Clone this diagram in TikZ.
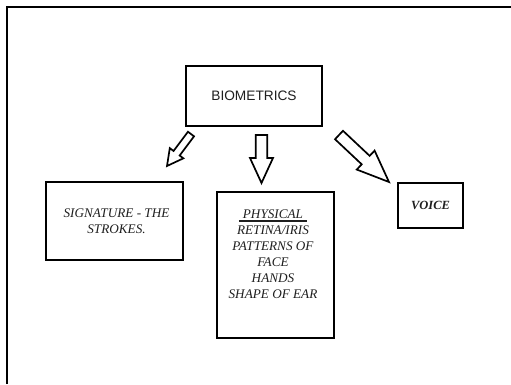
\documentclass[tikz,border=0pt]{standalone}
\usepackage{fontspec}
\setmainfont{Liberation Serif}
\newfontfamily\arialf{Liberation Sans}
\usetikzlibrary{calc}
\tikzset{
  frameline/.style={line width=2pt, draw=black},
  boxnode/.style={draw=black, line width=1.8pt, inner sep=0pt, align=center, text=black!88},
  serifit/.style={font=\fontsize{13.2}{16}\selectfont\itshape},
  arrowline/.style={draw=black, line width=1.7pt, line join=miter, fill=white}
}
\newcommand\blockarr[5]{%
  \coordinate (bah) at ($(#2)!#5!(#1)$);
  \draw[arrowline] ($(#1)!#3!90:(#2)$) -- ($(bah)!#3!90:(#2)$) -- ($(bah)!#4!90:(#2)$)
    -- (#2) -- ($(bah)!#4!-90:(#2)$) -- ($(bah)!#3!-90:(#2)$) -- ($(#1)!#3!-90:(#2)$) -- cycle;}
\begin{document}
\begin{tikzpicture}[x=1pt,y=-1pt]
\useasboundingbox (0,0) rectangle (511,384);
\fill[white] (0,0) rectangle (511,384);
\coordinate (fbl) at (7,384);
\coordinate (ftl) at (7,7);
\coordinate (ftr) at (511,7);
\draw[frameline] (fbl) -- (ftl) -- (ftr);

\node[boxnode, minimum width=136pt, minimum height=60pt, font=\arialf\fontsize{13.7}{16}\selectfont] (bio) at (254,96) {BIOMETRICS};
\node[boxnode, serifit, minimum width=137pt, minimum height=78pt] (sig) at (114.5,221) {\hspace*{4pt}SIGNATURE - THE\\\hspace*{4pt}STROKES.};
\node[boxnode, minimum width=117pt, minimum height=146pt] (phys) at (275.5,265) {};
\node[serifit, align=center, inner sep=0pt, anchor=north, text=black!88] (physt) at (273,209.5)
  {{\setbox0\hbox{PHYSICAL}\rlap{\hspace*{-4pt}\rule[-3.2pt]{\dimexpr\wd0+8pt\relax}{1.5pt}}\box0}\\
   RETINA/IRIS\\PATTERNS OF\\FACE\\HANDS\\SHAPE OF EAR};
\node[boxnode, minimum width=65pt, minimum height=45pt, font=\fontsize{12.5}{15}\selectfont\bfseries\itshape] (voice) at (430.5,205.5) {VOICE};

\coordinate (la) at (191,134);
\coordinate (lb) at (167,166);
\coordinate (ma) at (261.5,135);
\coordinate (mb) at (261.5,183);
\coordinate (ra) at (339,135);
\coordinate (rb) at (389,182);
\blockarr{la}{lb}{3.8pt}{8.5pt}{16pt}
\blockarr{ma}{mb}{5.8pt}{11.5pt}{25pt}
\blockarr{ra}{rb}{5.8pt}{13pt}{32pt}
\end{tikzpicture}
\end{document}
